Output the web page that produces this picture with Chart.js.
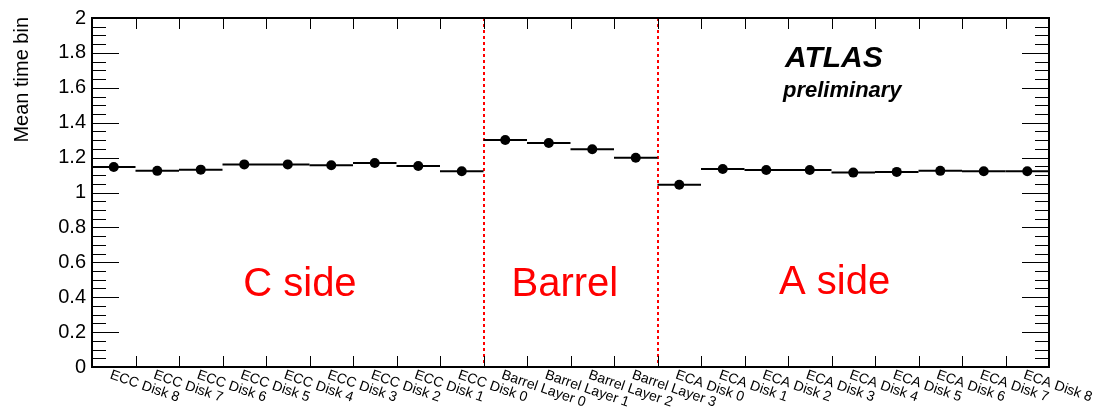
<!DOCTYPE html>
<html><head><meta charset="utf-8">
<script src="https://cdn.jsdelivr.net/npm/chart.js@4"></script>
<style>html,body{margin:0;padding:0;background:#fff}canvas{display:block}</style>
</head><body>
<canvas id="c" width="1098" height="412"></canvas>
<script>
// ---- data ----
const categories = [
  'ECC Disk 8','ECC Disk 7','ECC Disk 6','ECC Disk 5','ECC Disk 4','ECC Disk 3','ECC Disk 2','ECC Disk 1','ECC Disk 0',
  'Barrel Layer 0','Barrel Layer 1','Barrel Layer 2','Barrel Layer 3',
  'ECA Disk 0','ECA Disk 1','ECA Disk 2','ECA Disk 3','ECA Disk 4','ECA Disk 5','ECA Disk 6','ECA Disk 7','ECA Disk 8'
];
const meanTimeBin = [
  1.146,1.124,1.131,1.161,1.161,1.156,1.169,1.152,1.122,
  1.301,1.284,1.248,1.199,
  1.044,1.135,1.129,1.129,1.114,1.118,1.124,1.122,1.122
];
const regionLabels = ['C side','Barrel','A side'];
const regionFirst = ['ECC Disk 8','Barrel Layer 0','ECA Disk 0'];
const yTitle = 'Mean time bin';
const atlasTitle = 'ATLAS';
const atlasSub = 'preliminary';

// ---- styling / placement ----
const FONT = '"Liberation Sans", Arial, Helvetica, sans-serif';
const regionTextPos = [{x:4.28,y:0.408},{x:10.37,y:0.408},{x:16.57,y:0.42}];

const rootPlugin = {
  id: 'rootStyle',
  beforeDatasetsDraw(chart) {
    const {ctx, chartArea: a, scales: {x, y}} = chart;
    ctx.save();
    // red dotted region dividers
    ctx.strokeStyle = '#ff0000';
    ctx.lineWidth = 2;
    ctx.setLineDash([3, 3]);
    for (let r = 1; r < regionFirst.length; r++) {
      const i = categories.indexOf(regionFirst[r]);
      const px = Math.round(x.getPixelForValue(i - 0.5));
      ctx.beginPath(); ctx.moveTo(px, a.top); ctx.lineTo(px, a.bottom); ctx.stroke();
    }
    ctx.setLineDash([]);
    // horizontal bin-width segments
    ctx.strokeStyle = '#000';
    ctx.lineWidth = 2;
    meanTimeBin.forEach((v, i) => {
      const x0 = x.getPixelForValue(i - 0.5), x1 = x.getPixelForValue(i + 0.5);
      const py = y.getPixelForValue(v);
      ctx.beginPath(); ctx.moveTo(x0, py); ctx.lineTo(x1, py); ctx.stroke();
    });
    // region labels
    ctx.fillStyle = '#ff0000';
    ctx.font = '40px ' + FONT;
    ctx.textAlign = 'center';
    ctx.textBaseline = 'alphabetic';
    regionLabels.forEach((t, k) => {
      ctx.fillText(t, x.getPixelForValue(regionTextPos[k].x), y.getPixelForValue(regionTextPos[k].y));
    });
    ctx.restore();
  },
  afterDraw(chart) {
    const {ctx, chartArea: a, scales: {x, y}} = chart;
    ctx.save();
    // ticks
    ctx.strokeStyle = '#000';
    ctx.lineWidth = 1;
    ctx.beginPath();
    const nMinor = Math.round((y.max - y.min) / 0.05);
    for (let k = 0; k <= nMinor; k++) {
      const v = y.min + k * 0.05;
      const py = Math.round(y.getPixelForValue(v)) + 0.5;
      const len = (k % 4 === 0) ? 27 : 14;
      ctx.moveTo(a.left, py); ctx.lineTo(a.left + len, py);
      ctx.moveTo(a.right - len, py); ctx.lineTo(a.right, py);
    }
    for (let i = 1; i < categories.length; i++) {
      const px = Math.round(x.getPixelForValue(i - 0.5)) + 0.5;
      ctx.moveTo(px, a.bottom); ctx.lineTo(px, a.bottom - 11);
      ctx.moveTo(px, a.top); ctx.lineTo(px, a.top + 11);
    }
    ctx.stroke();
    // frame
    ctx.lineWidth = 2;
    ctx.strokeRect(a.left, a.top, a.right - a.left, a.bottom - a.top);
    // x labels (rotated)
    ctx.fillStyle = '#000';
    ctx.font = '14px ' + FONT;
    ctx.textAlign = 'left';
    ctx.textBaseline = 'top';
    categories.forEach((t, i) => {
      const px = x.getPixelForValue(i);
      ctx.save();
      ctx.translate(px - 1, a.bottom + 1);
      ctx.rotate(19 * Math.PI / 180);
      ctx.fillText(t, 0, 0);
      ctx.restore();
    });
    // y title
    ctx.save();
    ctx.font = '20px ' + FONT;
    ctx.textAlign = 'right';
    ctx.textBaseline = 'alphabetic';
    ctx.translate(28, a.top - 1);
    ctx.rotate(-Math.PI / 2);
    ctx.fillText(yTitle, 0, 0);
    ctx.restore();
    // ATLAS preliminary
    ctx.textAlign = 'left';
    ctx.textBaseline = 'alphabetic';
    ctx.font = 'italic bold 30px ' + FONT;
    ctx.fillText(atlasTitle, 785, 67);
    ctx.font = 'italic bold 22px ' + FONT;
    ctx.fillText(atlasSub, 783, 97);
    ctx.restore();
  }
};

new Chart(document.getElementById('c'), {
  type: 'line',
  data: {
    labels: categories,
    datasets: [{
      data: meanTimeBin,
      showLine: false,
      pointRadius: 5,
      pointHoverRadius: 5,
      pointBackgroundColor: '#000',
      pointBorderColor: '#000',
      pointBorderWidth: 0
    }]
  },
  options: {
    responsive: false,
    animation: false,
    events: [],
    layout: {padding: {left: 0, top: 14, right: 49, bottom: 45}},
    plugins: {legend: {display: false}, tooltip: {enabled: false}},
    scales: {
      x: {type: 'category', offset: true, display: false},
      y: {
        min: 0, max: 2,
        afterFit(s) { s.width = 92; },
        grid: {display: false, drawTicks: false},
        border: {display: false},
        ticks: {
          stepSize: 0.2, padding: 6, color: '#000',
          font: {family: FONT, size: 20},
          callback: v => String(Math.round(v * 10) / 10)
        }
      }
    }
  },
  plugins: [rootPlugin]
});
</script>
</body></html>
